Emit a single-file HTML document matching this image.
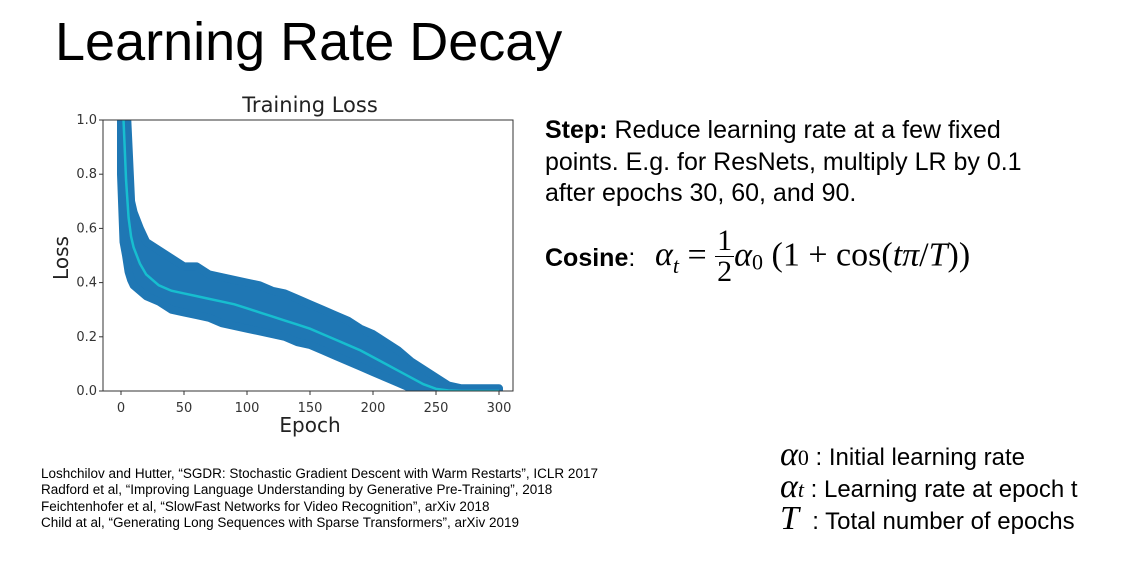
<!DOCTYPE html>
<html><head><meta charset="utf-8"><style>
body{margin:0;width:1138px;height:561px;background:#fff;position:relative;overflow:hidden;font-family:"Liberation Sans",sans-serif;color:#000}
.a{position:absolute;white-space:nowrap}
.m{font-family:"Liberation Serif",serif;font-style:italic}
.r{font-family:"Liberation Serif",serif}
</style></head><body>
<div class="a" style="left:55px;top:11px;font-size:54px">Learning Rate Decay</div>
<svg class="a" style="left:0;top:0" width="540" height="450">
<g id="chart"></g>
</svg>
<div class="a" style="left:545px;top:115px;font-size:25px;line-height:31.5px">
<b>Step:</b> Reduce learning rate at a few fixed<br>points. E.g. for ResNets, multiply LR by 0.1<br>after epochs 30, 60, and 90.</div>
<div class="a" style="left:545px;top:244px;font-size:25px"><b>Cosine</b>:</div>
<div class="a" style="left:655px;top:226px;font-size:34px">
<span class="m">α<sub style="font-size:22px">t</sub></span><span class="r"> = </span>
<span style="display:inline-block;vertical-align:middle;text-align:center;font-size:30px;line-height:30px" class="r"><span style="display:block;border-bottom:1.5px solid #000;padding:0 2px">1</span><span style="display:block">2</span></span><span class="m">α</span><span class="r" style="font-size:22px;vertical-align:-4px">0</span><span class="r"> (1 + cos(<i>tπ</i>/<i>T</i>))</span></div>
<div class="a" style="left:780px;top:440px;font-size:24px;line-height:29px">
<div><span class="m" style="font-size:34px">α</span><span class="r" style="font-size:22px">0</span> : Initial learning rate</div>
<div><span class="m" style="font-size:34px">α</span><span class="m" style="font-size:22px">t</span> : Learning rate at epoch t</div>
<div><span class="m" style="font-size:34px">T</span> &nbsp;: Total number of epochs</div></div>
<div class="a" style="left:41px;top:466px;font-size:13.5px;line-height:16.3px">
Loshchilov and Hutter, “SGDR: Stochastic Gradient Descent with Warm Restarts”, ICLR 2017<br>
Radford et al, “Improving Language Understanding by Generative Pre-Training”, 2018<br>
Feichtenhofer et al, “SlowFast Networks for Video Recognition”, arXiv 2018<br>
Child at al, “Generating Long Sequences with Sparse Transformers”, arXiv 2019</div>
<script>
const epochs=[0,2,4,6,8,10,15,20,30,40,50,60,70,80,90,100,110,120,130,140,150,160,170,180,190,200,210,220,230,240,250,260,270,280,290,300];
const meanLoss=[1.3,1.0,0.78,0.64,0.57,0.53,0.47,0.43,0.39,0.37,0.36,0.35,0.34,0.33,0.32,0.305,0.29,0.275,0.26,0.245,0.23,0.21,0.19,0.17,0.15,0.125,0.1,0.075,0.05,0.025,0.008,0.002,0,0,0,0];
const upperLoss=[1.3,1.3,1.1,0.9,0.7,0.66,0.6,0.55,0.52,0.49,0.46,0.46,0.43,0.42,0.41,0.40,0.39,0.37,0.36,0.34,0.32,0.30,0.28,0.26,0.23,0.21,0.18,0.15,0.11,0.08,0.05,0.02,0.01,0.01,0.01,0.01];
const lowerLoss=[0.8,0.55,0.5,0.44,0.41,0.39,0.37,0.35,0.33,0.3,0.29,0.28,0.27,0.25,0.24,0.23,0.22,0.21,0.2,0.18,0.17,0.15,0.13,0.11,0.09,0.07,0.05,0.03,0.01,0,0,0,0,0,0,0];
const xTicks=[0,50,100,150,200,250,300];
const yTicks=[0.0,0.2,0.4,0.6,0.8,1.0];
const L=103,T=120,R=513,B=391;
const x=v=>121+v*(499-121)/300, y=v=>B-v*(B-T);
const g=document.getElementById('chart');const NS='http://www.w3.org/2000/svg';
function mk(t,a,p){const e=document.createElementNS(NS,t);for(const k in a)e.setAttribute(k,a[k]);(p||g).appendChild(e);return e;}
const clip=mk('clipPath',{id:'c'});mk('rect',{x:L,y:T,width:R-L,height:B-T},clip);
const cg=mk('g',{'clip-path':'url(#c)'});

let pts=epochs.map((e,i)=>x(e)+','+y(upperLoss[i])).concat(epochs.map((e,i)=>x(e)+','+y(lowerLoss[i])).reverse());
const band=mk('polygon',{points:pts.join(' '),fill:'#1f77b4',stroke:'#1f77b4','stroke-width':8,'stroke-linejoin':'round'},cg);

const line=mk('polyline',{points:epochs.map((e,i)=>x(e)+','+y(meanLoss[i])).join(' '),fill:'none',stroke:'#17becf','stroke-width':2.5},cg);

const fr=mk('rect',{x:L,y:T,width:R-L,height:B-T,fill:'none',stroke:'#333','stroke-width':1});

xTicks.forEach(v=>{mk('line',{x1:x(v),x2:x(v),y1:B,y2:B+4,stroke:'#333'});const t=mk('text',{x:x(v),y:B+21,'text-anchor':'middle','font-size':13,fill:'#333','font-family':'DejaVu Sans'});t.textContent=v;
});
yTicks.forEach(v=>{mk('line',{x1:L-4,x2:L,y1:y(v),y2:y(v),stroke:'#333'});const t=mk('text',{x:L-6,y:y(v)+4,'text-anchor':'end','font-size':13,fill:'#333','font-family':'DejaVu Sans'});t.textContent=v.toFixed(1);
});
let t=mk('text',{x:310,y:112,'text-anchor':'middle','font-size':21,fill:'#222','font-family':'DejaVu Sans'});t.textContent='Training Loss';

t=mk('text',{x:310,y:432,'text-anchor':'middle','font-size':20,fill:'#222','font-family':'DejaVu Sans'});t.textContent='Epoch';

t=mk('text',{x:68,y:258,'text-anchor':'middle','font-size':20,fill:'#222','font-family':'DejaVu Sans',transform:'rotate(-90 68 258)'});t.textContent='Loss';

</script>
</body></html>
